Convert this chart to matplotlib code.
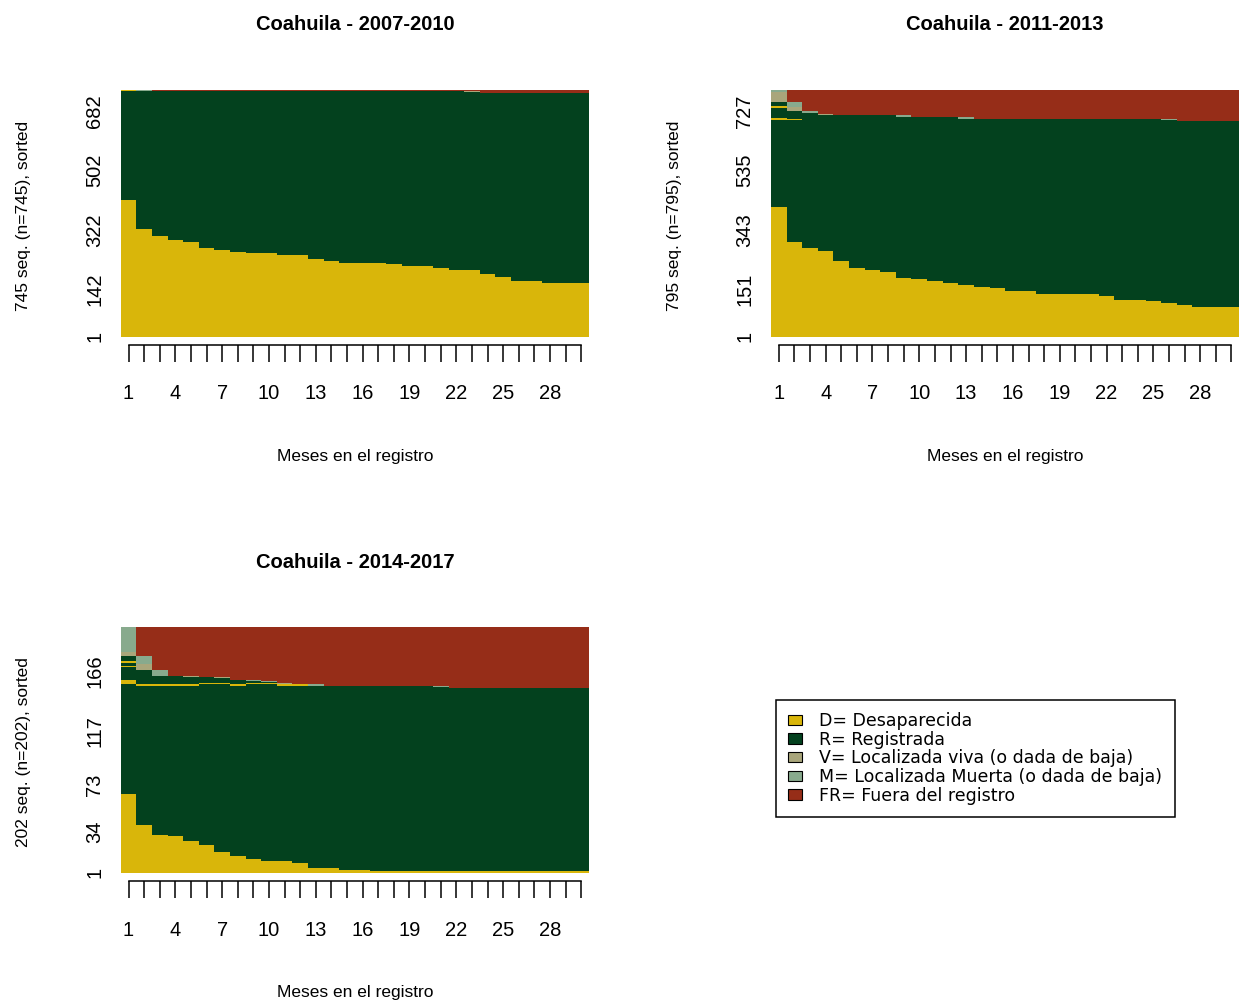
import numpy as np
import matplotlib.pyplot as plt
from matplotlib.patches import Patch

plt.rcParams['font.family'] = ['Liberation Sans', 'DejaVu Sans']

months = np.arange(1, 31)
month_labels = [str(m) if (m - 1) % 3 == 0 else '' for m in months]

state_codes = ['D', 'R', 'V', 'M', 'FR']
state_colors = ['#D9B60A', '#03411E', '#A9A67B', '#88AA8D', '#962D18']
state_labels = ['D= Desaparecida', 'R= Registrada',
                'V= Localizada viva (o dada de baja)',
                'M= Localizada Muerta (o dada de baja)',
                'FR= Fuera del registro']
color_of = dict(zip(state_codes, state_colors))

# 2007-2010
n_0710 = 745
yticks_0710 = [1, 142, 322, 502, 682]
desap_0710 = [413, 325, 302, 290, 284, 267, 261, 255, 251, 251, 246, 246, 234, 228, 223,
              223, 223, 218, 212, 212, 206, 201, 201, 190, 179, 168, 168, 162, 162, 162]
fuera_0710 = [0, 0, 5, 5, 5, 5, 5, 5, 5, 5, 5, 5, 5, 5, 5,
              5, 5, 5, 5, 5, 5, 5, 5, 11, 11, 11, 11, 11, 11, 11]
# small blocks above the main R band, bottom to top: (state, {month: count})
extra_0710 = [('V', {23: 3}), ('M', {2: 4}), ('D', {1: 4})]

# 2011-2013
n_1113 = 795
yticks_1113 = [1, 151, 343, 535, 727]
desap_1113 = [416, 304, 285, 274, 244, 220, 215, 208, 190, 184, 178, 173, 166, 160, 155,
              148, 148, 137, 137, 137, 137, 131, 119, 119, 113, 107, 101, 96, 96, 96]
fuera_1113 = [0, 41, 70, 77, 83, 83, 83, 83, 83, 88, 88, 88, 88, 93, 93,
              93, 93, 93, 93, 93, 93, 93, 93, 93, 93, 93, 100, 100, 100, 100]
extra_1113 = [('D', {1: 5, 2: 5}), ('R', {1: 34, 2: 24}), ('D', {1: 4}), ('R', {1: 15}),
              ('V', {1: 30, 2: 13, 4: 5}),
              ('M', {1: 9, 2: 16, 3: 6, 9: 5, 13: 5, 26: 5})]

# 2014-2017
n_1417 = 202
yticks_1417 = [1, 34, 73, 117, 166]
desap_1417 = [65, 39, 31, 30, 26, 23, 17, 14, 11, 10, 10, 8, 4, 4, 2,
              2, 1, 1, 1, 1, 1, 1, 1, 1, 1, 1, 1, 1, 1, 1]
fuera_1417 = [0, 24, 35, 40, 40, 41, 41, 43, 43, 44, 46, 47, 47, 48, 48,
              48, 48, 48, 48, 48, 48, 50, 50, 50, 50, 50, 50, 50, 50, 50]
extra_1417 = [('D', {1: 4, 2: 1, 3: 1, 4: 1, 5: 1, 6: 1, 7: 1, 8: 1, 9: 1, 10: 1, 11: 1, 12: 1}),
              ('R', {1: 10, 2: 12, 3: 7, 4: 7, 5: 6, 6: 5, 7: 4, 8: 4, 9: 2, 10: 1}),
              ('D', {1: 1}), ('R', {1: 3}), ('D', {1: 1}), ('R', {1: 4}),
              ('V', {1: 4, 2: 5, 5: 1, 7: 1, 11: 1}),
              ('M', {1: 20, 2: 6, 3: 5, 9: 1, 10: 1, 13: 1, 21: 1})]


def by_month(counts):
    out = np.zeros(len(months))
    for m, c in counts.items():
        out[m - 1] = c
    return out


def seq_panel(ax, n, desap, fuera, extra, yticks, title):
    desap = np.array(desap, dtype=float)
    fuera = np.array(fuera, dtype=float)
    extra = [(s, by_month(c)) for s, c in extra]
    # whatever is left in each month is the main "registrada" band
    registrada = n - desap - fuera - sum(c for _, c in extra)
    layers = [('D', desap), ('R', registrada)] + extra + [('FR', fuera)]

    edges = np.arange(0.5, len(months) + 1)
    bottom = np.zeros(len(months))
    for code, counts in layers:
        top = bottom + counts
        ax.stairs(top, edges, baseline=bottom, fill=True,
                  color=color_of[code], linewidth=0)
        bottom = top

    ax.set_xlim(0.5, 30.5)
    ax.set_ylim(0, n)
    for side in ['top', 'right', 'left']:
        ax.spines[side].set_visible(False)
    ax.spines['bottom'].set_position(('outward', 6))
    ax.spines['bottom'].set_bounds(1, 30)
    ax.spines['bottom'].set_linewidth(1.1)
    ax.set_xticks(months, month_labels)
    ax.tick_params(axis='x', length=12, width=1.1, pad=16.5, labelsize=14.5)
    ax.set_yticks(np.array(yticks) - 0.5, [str(v) for v in yticks],
                  rotation=90, va='center')
    ax.tick_params(axis='y', length=0, pad=12, labelsize=14.5)

    ax.set_title(title, fontsize=14.5, fontweight='bold', pad=43)
    ax.text(0.5, -0.487, 'Meses en el registro', transform=ax.transAxes,
            ha='center', va='center', fontsize=12.5)
    ax.text(-0.207, 0.49, f'{n} seq. (n={n}), sorted', transform=ax.transAxes,
            rotation=90, ha='center', va='center', fontsize=12.5)


fig = plt.figure(figsize=(12.39, 10), dpi=100)
W, H = 1239, 1000

ax1 = fig.add_axes([120.7 / W, 1 - 336.5 / H, 468.3 / W, 246.8 / H])
seq_panel(ax1, n_0710, desap_0710, fuera_0710, extra_0710, yticks_0710,
          'Coahuila - 2007-2010')

ax2 = fig.add_axes([771 / W, 1 - 336.5 / H, 468.3 / W, 246.8 / H])
seq_panel(ax2, n_1113, desap_1113, fuera_1113, extra_1113, yticks_1113,
          'Coahuila - 2011-2013')

ax3 = fig.add_axes([120.7 / W, 1 - 872.7 / H, 468.3 / W, 245.4 / H])
seq_panel(ax3, n_1417, desap_1417, fuera_1417, extra_1417, yticks_1417,
          'Coahuila - 2014-2017')

handles = [Patch(facecolor=c, edgecolor='black', linewidth=0.8) for c in state_colors]
leg = fig.legend(handles, state_labels, loc='upper left',
                 bbox_to_anchor=(776 / W, 1 - 700 / H), borderaxespad=0,
                 prop={'family': 'DejaVu Sans', 'size': 12.5},
                 frameon=True, fancybox=False, edgecolor='black', framealpha=1,
                 handlelength=0.8, handleheight=0.55, handletextpad=1.0,
                 labelspacing=0.035, borderpad=0.7)
leg.get_frame().set_linewidth(1.1)

fig.savefig('out.png', dpi=100)
